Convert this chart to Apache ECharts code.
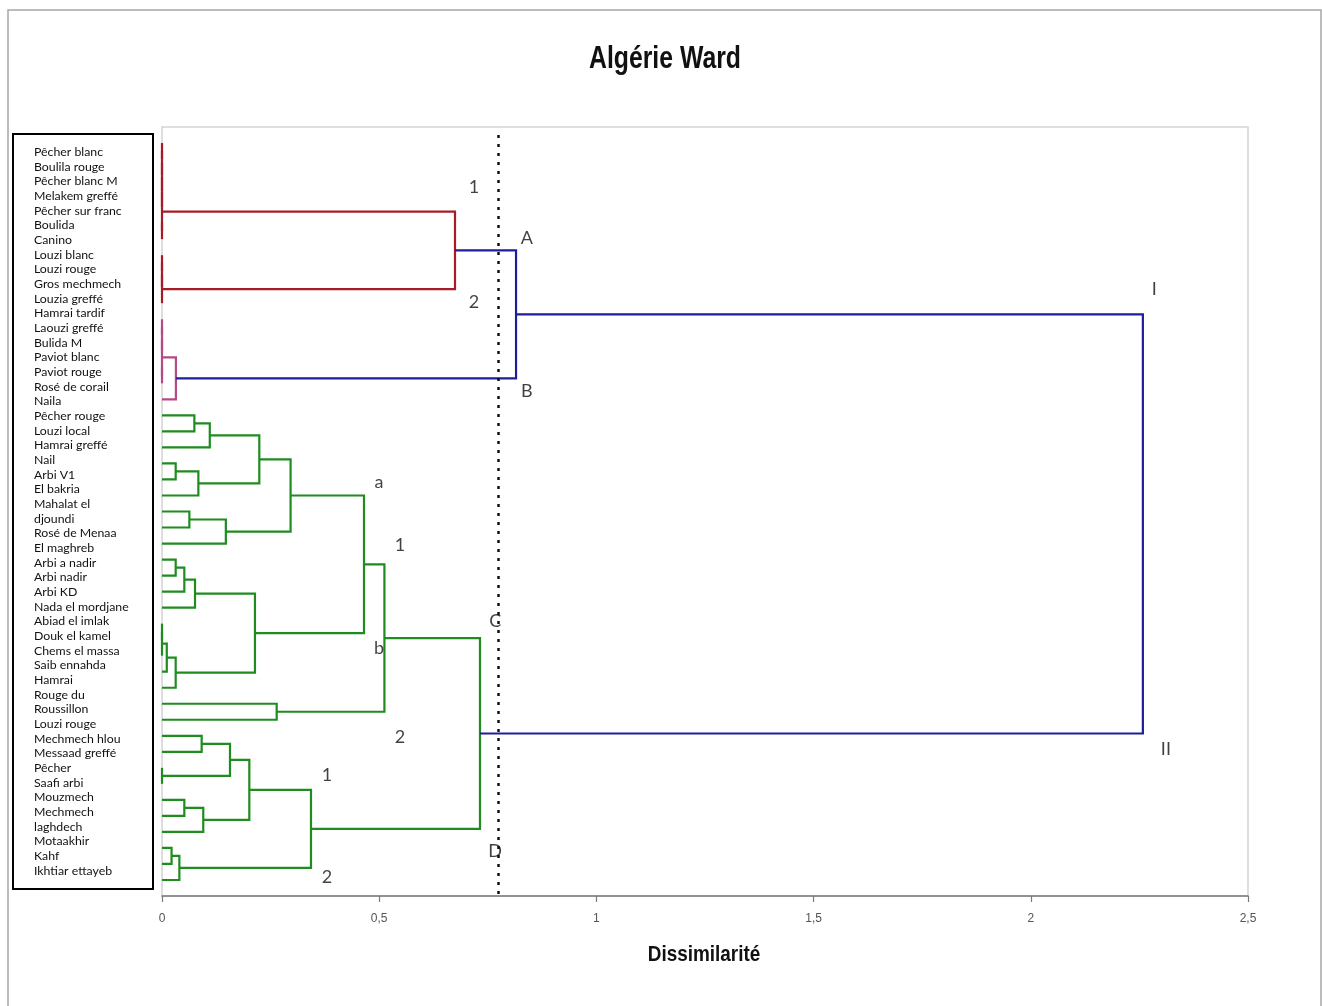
<!DOCTYPE html>
<html>
<head>
<meta charset="utf-8">
<script src="https://cdn.jsdelivr.net/npm/echarts@6/dist/echarts.min.js"></script>
<style>
html,body{margin:0;padding:0;background:#fff;}
#chart{width:1322px;height:1006px;}
</style>
</head>
<body>
<div id="chart"></div>
<script>
// ---------- DATA ----------
const title = 'Algérie Ward';
const xTitle = 'Dissimilarité';
const xTicks = [0, 0.5, 1, 1.5, 2, 2.5];

// legend box names (multi-line ones keep their break)
const leafNames = [
  'Pêcher blanc','Boulila rouge','Pêcher blanc M','Melakem greffé','Pêcher sur franc',
  'Boulida','Canino','Louzi blanc','Louzi rouge','Gros mechmech','Louzia greffé',
  'Hamrai tardif','Laouzi greffé','Bulida M','Paviot blanc','Paviot rouge',
  'Rosé de corail','Naila','Pêcher rouge','Louzi local','Hamrai greffé','Nail',
  'Arbi V1','El bakria','Mahalat el\ndjoundi','Rosé de Menaa','El maghreb',
  'Arbi a nadir','Arbi nadir','Arbi KD','Nada el mordjane','Abiad el imlak',
  'Douk el kamel','Chems el massa','Saib ennahda','Hamrai','Rouge du\nRoussillon',
  'Louzi rouge','Mechmech hlou','Messaad greffé','Pêcher','Saafi arbi','Mouzmech',
  'Mechmech\nlaghdech','Motaakhir','Kahf','Ikhtiar ettayeb'
];

const leafCount = 47; // leaves drawn in the dendrogram (0 = top)

// linkage: [childA, childB, dissimilarity]; 'mK' refers to merge K
const merges = [
  [0,1,0], ['m0',2,0], ['m1',3,0], ['m2',4,0], [5,6,0], ['m3','m4',0],      // m0-m5
  [7,8,0], ['m6',9,0], ['m7',10,0],                                          // m6-m8
  ['m5','m8',0.6745],                                                        // m9
  [11,12,0], ['m10',13,0], [14,15,0], ['m11','m12',0], ['m13',16,0.032],     // m10-m14
  ['m9','m14',0.815],                                                        // m15
  [17,18,0.0745], ['m16',19,0.110], [20,21,0.0315], ['m18',22,0.0837],       // m16-m19
  ['m17','m19',0.224], [23,24,0.063], ['m21',25,0.147], ['m20','m22',0.296], // m20-m23
  [26,27,0.0315], ['m24',28,0.0514], ['m25',29,0.076],                       // m24-m26
  [30,31,0], ['m27',32,0], ['m28',33,0.011], ['m29',34,0.0315],              // m27-m30
  ['m26','m30',0.214], ['m23','m31',0.465], [35,36,0.264], ['m32','m33',0.512], // m31-m34
  [37,38,0.0913], [39,40,0], ['m35','m36',0.1565], [41,42,0.0514], ['m38',43,0.095], // m35-m39
  ['m37','m39',0.201], [44,45,0.022], ['m41',46,0.040], ['m40','m42',0.343], // m40-m43
  ['m34','m43',0.732],                                                       // m44
  ['m15','m44',2.258]                                                        // m45
];
// cluster of each merge (for colour)
const mergeGroup = [
  'red','red','red','red','red','red','red','red','red','red',
  'pink','pink','pink','pink','pink',
  'blue',
  'green','green','green','green','green','green','green','green','green','green',
  'green','green','green','green','green','green','green','green','green','green',
  'green','green','green','green','green','green','green','green','green',
  'blue'
];

const cutLevel = 0.7735;

// annotation letters: [dissimilarity, leaf position, text]
const annX = [0.718, 0.718, 0.840, 0.840, 2.284, 2.311, 0.4995, 0.548, 0.4995, 0.767, 0.548, 0.380, 0.380, 0.767];
const annY = [2.75, 9.93, 5.93, 15.48, 9.11, 37.83, 21.16, 25.09, 31.52, 29.84, 37.08, 39.45, 45.82, 44.19];
const annText = ['1','2','A','B','I','II','a','1','b','C','2','1','2','D'];

// ---------- STYLE ----------
const groupColor = {red:'#a51c26', pink:'#b34a86', blue:'#1e1e98', green:'#1f8c1f'};
const sansFont = '"Liberation Sans",Arial,sans-serif';

// ---------- BUILD ----------
const nodePos = [], nodeH = [];
for (let i = 0; i < leafCount; i++) { nodePos.push(i); nodeH.push(0); }
function ref(r){ return typeof r === 'string' ? leafCount + parseInt(r.slice(1)) : r; }
const segData = merges.map((m, k) => {
  const a = ref(m[0]), b = ref(m[1]), h = m[2];
  const pa = nodePos[a], pb = nodePos[b];
  nodePos.push((pa + pb) / 2); nodeH.push(h);
  return {value:[h, pa, pb, nodeH[a], nodeH[b]], itemStyle:{color: groupColor[mergeGroup[k]]}};
});

const annData = annText.map((t, i) => ({name: t, value: [annX[i], annY[i]]}));

const chart = echarts.init(document.getElementById('chart'), null, {renderer:'canvas'});
chart.setOption({
  backgroundColor: '#fff',
  animation: false,
  grid: {left: 162, top: 127, width: 1086, height: 769, show: true,
         borderColor: '#d3d3d3', borderWidth: 1.5, backgroundColor: 'transparent'},
  xAxis: {
    type: 'value', min: 0, max: 2.5, interval: 0.5, position: 'bottom',
    axisLine: {show: true, onZero: false, lineStyle: {color: '#7a7a7a', width: 1.5}},
    axisTick: {show: true, length: 6, lineStyle: {color: '#7a7a7a', width: 1.2}},
    axisLabel: {fontFamily: sansFont, fontSize: 12, color: '#555', margin: 17,
                formatter: v => String(v).replace('.', ',')},
    splitLine: {show: false}
  },
  yAxis: {type: 'value', inverse: true, min: -1, max: leafCount, show: false},
  series: [
    {
      type: 'custom',
      coordinateSystem: 'cartesian2d',
      encode: {x: [0, 3, 4], y: [1, 2]},
      clip: false,
      data: segData,
      renderItem: function (params, api) {
        const h = api.value(0), ya = api.value(1), yb = api.value(2);
        const ha = api.value(3), hb = api.value(4);
        const p1 = api.coord([ha, ya]), p2 = api.coord([h, ya]);
        const p3 = api.coord([h, yb]), p4 = api.coord([hb, yb]);
        return {
          type: 'polyline',
          shape: {points: [p1, p2, p3, p4]},
          style: {stroke: api.visual('color'), lineWidth: 2.2, fill: null}
        };
      },
      markLine: {
        silent: true, symbol: 'none', label: {show: false},
        lineStyle: {color: '#111', type: [3, 6], width: 2.5},
        data: [[{coord: [cutLevel, -0.5]}, {coord: [cutLevel, leafCount]}]]
      },
      z: 3
    },
    {
      type: 'scatter',
      symbolSize: 0,
      data: annData,
      label: {show: true, position: 'inside', formatter: p => p.name,
              fontFamily: 'Lato, "Open Sans", sans-serif', fontSize: 18, color: '#111'},
      z: 4
    }
  ],
  graphic: [
    {type: 'rect', shape: {x: 8, y: 10, width: 1313, height: 1000},
     style: {fill: null, stroke: '#a6a6a6', lineWidth: 1.5}, silent: true},
    {type: 'rect', shape: {x: 13, y: 134, width: 140, height: 755},
     style: {fill: '#fff', stroke: '#000', lineWidth: 2}, silent: true},
    {type: 'text', x: 34, y: 144.7,
     style: {text: leafNames.join('\n'), fill: '#111', fontSize: 12.3, lineHeight: 14.67,
             fontFamily: 'Lato, "Open Sans", sans-serif', textVerticalAlign: 'top', textAlign: 'left'},
     silent: true},
    {type: 'text', x: 665, y: 59, scaleX: 0.8,
     style: {text: title, fill: '#111', fontSize: 31, fontWeight: 'bold', fontFamily: sansFont,
             textAlign: 'center', textVerticalAlign: 'middle'}, silent: true},
    {type: 'text', x: 704, y: 955, scaleX: 0.86,
     style: {text: xTitle, fill: '#111', fontSize: 22, fontWeight: 'bold', fontFamily: sansFont,
             textAlign: 'center', textVerticalAlign: 'middle'}, silent: true}
  ]
});
</script>
</body>
</html>
